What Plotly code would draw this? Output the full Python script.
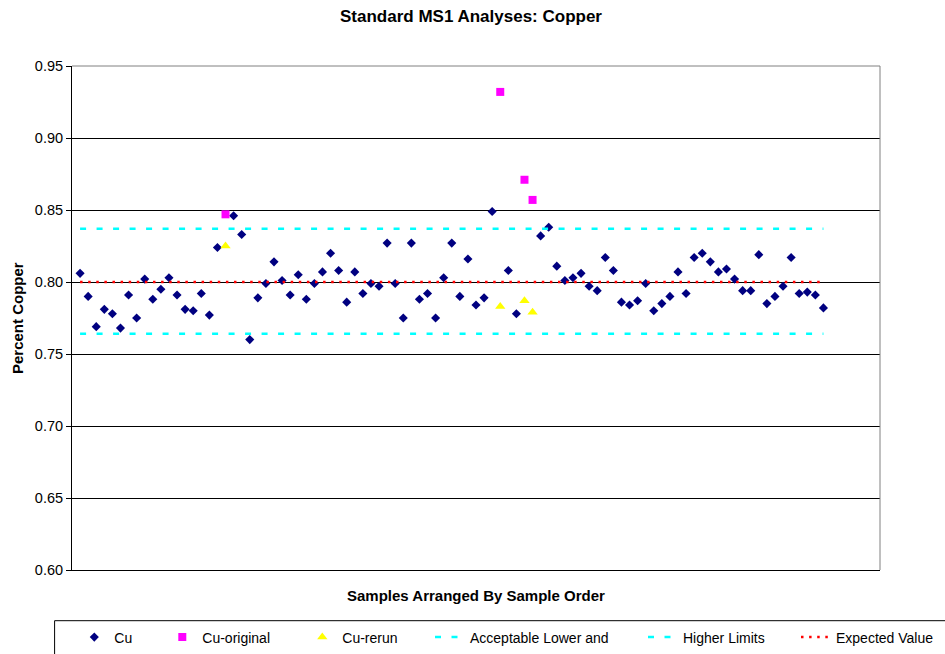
import plotly.graph_objects as go

# Sample positions along the run (sample order)
sample_no = list(range(1, 94))

# Cu results for standard MS1 (None where the sample was re-analysed)
cu = [
    0.806, 0.790, 0.769, 0.781, 0.778, 0.768, 0.791, 0.775, 0.802, 0.788,
    0.795, 0.803, 0.791, 0.781, 0.780, 0.792, 0.777, 0.824, None, 0.846,
    0.833, 0.760, 0.789, 0.799, 0.814, 0.801, 0.791, 0.805, 0.788, 0.799,
    0.807, 0.820, 0.808, 0.786, 0.807, 0.792, 0.799, 0.797, 0.827, 0.799,
    0.775, 0.827, 0.788, 0.792, 0.775, 0.803, 0.827, 0.790, 0.816, 0.784,
    0.789, 0.849, None, 0.808, 0.778, None, None, 0.832, 0.838, 0.811,
    0.801, 0.803, 0.806, 0.797, 0.794, 0.817, 0.808, 0.786, 0.784, 0.787,
    0.799, 0.780, 0.785, 0.790, 0.807, 0.792, 0.817, 0.820, 0.814, 0.807,
    0.809, 0.802, 0.794, 0.794, 0.819, 0.785, 0.790, 0.797, 0.817, 0.792,
    0.793, 0.791, 0.782,
]

# Original (failed) analyses and their reruns
orig_samples = [19, 53, 56, 57]
cu_original = [0.847, 0.932, 0.871, 0.857]
rerun_samples = [19, 53, 56, 57]
cu_rerun = [0.825, 0.783, 0.787, 0.779]

# Acceptance window and certified value
limit_x = [1, 93]
lower_limit = [0.764, 0.764]
upper_limit = [0.837, 0.837]
expected = [0.800, 0.800]

y_ticks = [0.60, 0.65, 0.70, 0.75, 0.80, 0.85, 0.90, 0.95]

FONT = "Arial, 'Liberation Sans', sans-serif"

fig = go.Figure()
fig.add_trace(go.Scatter(
    x=sample_no, y=cu, mode="markers", name="Cu",
    marker=dict(symbol="diamond", size=7, color="#000080", line=dict(width=0)),
    legend="legend", legendwidth=43,
))
fig.add_trace(go.Scatter(
    x=orig_samples, y=cu_original, mode="markers", name="Cu-original",
    marker=dict(symbol="square", size=8, color="#FF00FF", line=dict(width=0)),
    legend="legend", legendwidth=95,
))
fig.add_trace(go.Scatter(
    x=rerun_samples, y=cu_rerun, mode="markers", name="Cu-rerun",
    marker=dict(symbol="triangle-up", size=9, color="#FFFF00", line=dict(width=0)),
    legend="legend", legendwidth=82,
))
fig.add_trace(go.Scatter(
    x=limit_x, y=lower_limit, mode="lines", name="Acceptable Lower and",
    line=dict(color="#00FFFF", width=2.5, dash="6px,10.5px"),
    legend="legend2", legendwidth=168,
))
fig.add_trace(go.Scatter(
    x=limit_x, y=upper_limit, mode="lines", name="Higher Limits",
    line=dict(color="#00FFFF", width=2.5, dash="6px,10.5px"),
    legend="legend2", legendwidth=108,
))
fig.add_trace(go.Scatter(
    x=limit_x, y=expected, mode="lines", name="Expected Value",
    line=dict(color="#FF0000", width=2.5, dash="2.5px,5.6px"),
    legend="legend2", legendwidth=100,
))

L, T, PW, PH = 72, 66, 808, 504


def px_x(p):
    return (p - L) / PW


def px_y(p):
    return (T + PH - p) / PH


legend_style = dict(
    orientation="h", xanchor="left", yanchor="top", y=px_y(621.5),
    bgcolor="rgba(0,0,0,0)", borderwidth=0,
    font=dict(family=FONT, size=14, color="black"),
    traceorder="normal",
)

fig.update_layout(
    width=945, height=654,
    margin=dict(l=L, r=945 - L - PW, t=T, b=654 - T - PH, autoexpand=False),
    paper_bgcolor="white", plot_bgcolor="white",
    font=dict(family=FONT, color="black"),
    showlegend=True,
    title=dict(
        text="<b>Standard MS1 Analyses: Copper</b>",
        font=dict(family=FONT, size=17, color="black"),
        x=471 / 945, xanchor="center", xref="container",
        y=1 - 16 / 654, yanchor="middle", yref="container",
    ),
    xaxis=dict(
        range=[0, 100], showgrid=False, zeroline=False,
        showticklabels=False, ticks="",
        showline=True, linecolor="black", linewidth=1,
    ),
    yaxis=dict(
        range=[0.60, 0.95], tickvals=y_ticks, tickformat=".2f",
        showgrid=True, gridcolor="black", gridwidth=1, zeroline=False,
        ticks="outside", ticklen=5, tickcolor="black", tickwidth=1,
        showline=True, linecolor="black", linewidth=1,
        tickfont=dict(family=FONT, size=14.5, color="black"),
    ),
    legend=dict(legend_style, x=px_x(74.3)),
    legend2=dict(legend_style, x=px_x(430)),
    annotations=[
        dict(
            text="<b>Percent Copper</b>", textangle=-90,
            x=px_x(17), y=0.5, xref="paper", yref="paper",
            xanchor="center", yanchor="middle", showarrow=False,
            font=dict(family=FONT, size=15, color="black"),
        ),
        dict(
            text="<b>Samples Arranged By Sample Order</b>",
            x=px_x(476.5), y=px_y(595), xref="paper", yref="paper",
            xanchor="center", yanchor="middle", showarrow=False,
            font=dict(family=FONT, size=15, color="black"),
        ),
    ],
    shapes=[
        # grey plot-area frame on the top and right sides
        dict(type="line", xref="paper", yref="paper", x0=0, x1=1, y0=1, y1=1,
             line=dict(color="#808080", width=1), layer="above"),
        dict(type="line", xref="paper", yref="paper", x0=1, x1=1, y0=0, y1=1,
             line=dict(color="#808080", width=1), layer="above"),
        # legend frame
        dict(type="rect", xref="paper", yref="paper",
             x0=px_x(54.6), x1=px_x(960), y0=px_y(620.7), y1=px_y(670),
             line=dict(color="black", width=1), fillcolor="rgba(0,0,0,0)",
             layer="above"),
    ],
)

fig.write_html("out.html")
